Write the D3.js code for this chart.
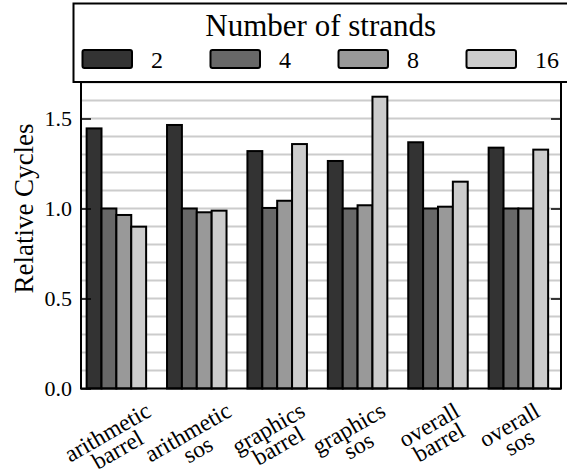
<!DOCTYPE html>
<html>
<head>
<meta charset="utf-8">
<script src="https://cdn.jsdelivr.net/npm/d3@7"></script>
<style>
  body { margin: 0; background: #fff; }
  svg { display: block; }
  svg text { font-family: 'Liberation Serif', 'DejaVu Serif', serif; fill: #000; }
</style>
</head>
<body>
<div id="chart"></div>
<script>
// chart data
const categories = [["arithmetic", "barrel"], ["arithmetic", "sos"], ["graphics", "barrel"],
                    ["graphics", "sos"], ["overall", "barrel"], ["overall", "sos"]];
const strands = ["2", "4", "8", "16"];
const strands2 = [1.445, 1.464, 1.319, 1.264, 1.368, 1.338];
const strands4 = [1.0, 1.0, 1.003, 1.0, 1.0, 1.0];
const strands8 = [0.964, 0.979, 1.043, 1.018, 1.01, 1.0];
const strands16 = [0.899, 0.988, 1.358, 1.621, 1.149, 1.327];
const yTicks = [0, 0.5, 1.0, 1.5];
const colors = ["#333333", "#686868", "#999999", "#cccccc"];

const series = [strands2, strands4, strands8, strands16];
const serif = "'Liberation Serif', 'DejaVu Serif', serif";

const width = 567, height = 473;
const plotLeft = 81, plotRight = 561, plotBottom = 388.5, plotTop = 28.5;
const barW = 0.185;

const svg = d3.select("#chart").append("svg")
  .attr("width", width)
  .attr("height", height)
  .attr("font-family", serif);

const x = d3.scaleLinear().domain([-0.07, 5.9]).range([plotLeft, plotRight]);
const y = d3.scaleLinear().domain([0, 2.0]).range([plotBottom, plotTop]);

// grid lines every 0.1
svg.append("g")
  .selectAll("line")
  .data(d3.range(1, 20).map(d => d / 10))
  .enter().append("line")
  .attr("x1", plotLeft).attr("x2", plotRight)
  .attr("y1", d => y(d)).attr("y2", d => y(d))
  .attr("stroke", "#cccccc")
  .attr("stroke-width", 2);

// bars
const bars = [];
series.forEach((vals, k) => vals.forEach((v, i) => bars.push({ i, k, v })));
svg.append("g")
  .selectAll("rect")
  .data(bars)
  .enter().append("rect")
  .attr("x", d => x(d.i + d.k * barW))
  .attr("width", x(barW) - x(0))
  .attr("y", d => y(d.v))
  .attr("height", d => y(0) - y(d.v))
  .attr("fill", d => colors[d.k])
  .attr("stroke", "#000")
  .attr("stroke-width", 2);

// frame
svg.append("path")
  .attr("d", `M${plotLeft},${plotTop}V${plotBottom}H${plotRight}V${plotTop}Z`)
  .attr("fill", "none")
  .attr("stroke", "#000")
  .attr("stroke-width", 2);

// inward ticks on both sides
const yAxisL = d3.axisLeft(y).tickValues(yTicks).tickFormat(d3.format(".1f")).tickSizeInner(-10).tickSizeOuter(0).tickPadding(9);
const gl = svg.append("g").attr("transform", `translate(${plotLeft},0)`).call(yAxisL);
gl.attr("font-family", serif).attr("font-size", 22);
gl.select(".domain").remove();
gl.selectAll(".tick line").attr("stroke", "#000").attr("stroke-width", 1.5);
gl.selectAll(".tick text").style("font-family", serif).attr("font-size", 22);

const yAxisR = d3.axisRight(y).tickValues(yTicks).tickFormat("").tickSizeInner(-10).tickSizeOuter(0);
const gr = svg.append("g").attr("transform", `translate(${plotRight},0)`).call(yAxisR);
gr.select(".domain").remove();
gr.selectAll(".tick line").attr("stroke", "#000").attr("stroke-width", 1.5);

// y label
svg.append("text")
  .attr("transform", `translate(33,${(plotTop + plotBottom) / 2}) rotate(-90)`)
  .attr("text-anchor", "middle")
  .attr("font-size", 27)
  .style("font-family", serif)
  .text("Relative Cycles");

// x labels, rotated 30 degrees
categories.forEach((lines, i) => {
  const cx = x(i + 2 * barW) - 4;
  const g = svg.append("g").attr("transform", `translate(${cx},420) rotate(-30)`);
  lines.forEach((t, j) => {
    g.append("text")
      .attr("x", 0).attr("y", j * 20)
      .attr("text-anchor", "middle")
      .attr("font-size", 23.5)
      .style("font-family", serif)
      .text(t);
  });
  const b = g.node().getBoundingClientRect();
  const dx = cx - (b.left + b.width / 2);
  const dy = 397 - b.top;
  g.attr("transform", `translate(${cx + dx},${420 + dy}) rotate(-30)`);
});

// legend
const lg = svg.append("g");
lg.append("rect")
  .attr("x", 73.5).attr("y", 3.5)
  .attr("width", 495).attr("height", 78.5)
  .attr("fill", "#fff")
  .attr("stroke", "#000")
  .attr("stroke-width", 2);
lg.append("text")
  .attr("x", 320.7).attr("y", 36)
  .attr("text-anchor", "middle")
  .attr("font-size", 31)
  .style("font-family", serif)
  .text("Number of strands");
const items = lg.selectAll("g.item")
  .data(strands)
  .enter().append("g")
  .attr("class", "item")
  .attr("transform", (d, k) => `translate(${82.5 + k * 128},0)`);
items.append("rect")
  .attr("x", 0).attr("y", 50)
  .attr("width", 49.5).attr("height", 18)
  .attr("rx", 2)
  .attr("fill", (d, k) => colors[k])
  .attr("stroke", "#000")
  .attr("stroke-width", 2);
items.append("text")
  .attr("x", 68.5).attr("y", 68)
  .attr("font-size", 24)
  .style("font-family", serif)
  .text(d => d);
</script>
</body>
</html>
